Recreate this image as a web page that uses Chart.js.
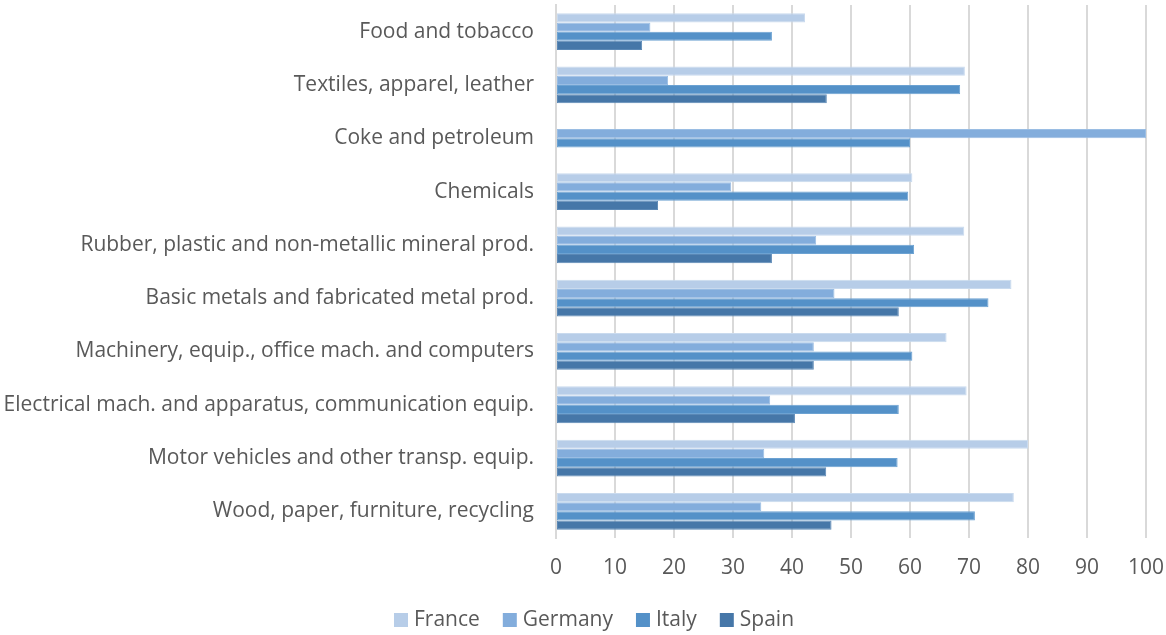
<!DOCTYPE html>
<html>
<head>
<meta charset="utf-8">
<script src="https://cdn.jsdelivr.net/npm/chart.js@4.4.1/dist/chart.umd.min.js"></script>
<style>
  html, body { margin: 0; padding: 0; background: #ffffff; }
  #wrap { position: relative; width: 1166px; height: 635px; }
</style>
</head>
<body>
<div id="wrap"><canvas id="chart"></canvas></div>
<script>
// Sectors (top to bottom)
const categories = [
  "Food and tobacco",
  "Textiles, apparel, leather",
  "Coke and petroleum",
  "Chemicals",
  "Rubber, plastic and non-metallic mineral prod.",
  "Basic metals and fabricated metal prod.",
  "Machinery, equip., office mach. and computers",
  "Electrical mach. and apparatus, communication equip.",
  "Motor vehicles and other transp. equip.",
  "Wood, paper, furniture, recycling"
];

// Values per country, in the same order as the sectors
const france  = [42.2, 69.3, null, 60.4, 69.2, 77.2, 66.2, 69.6, 80.0, 77.6];
const germany = [16.0, 19.0, 100.0, 29.7, 44.1, 47.2, 43.7, 36.3, 35.3, 34.8];
const italy   = [36.6, 68.5, 60.0, 59.7, 60.7, 73.3, 60.4, 58.1, 57.9, 71.0];
const spain   = [14.6, 45.9, null, 17.3, 36.6, 58.1, 43.7, 40.5, 45.8, 46.7];

const xTicks = [0, 10, 20, 30, 40, 50, 60, 70, 80, 90, 100];

const textColor = "#595959";
const gridColor = "#D9D9D9";
const fontFamily = "'Open Sans', sans-serif";
const fontSize = 21;

function series(label, data, color, edge) {
  return {
    label: label,
    data: data,
    backgroundColor: color,
    borderColor: edge,
    borderWidth: 1,
    borderSkipped: false,
    categoryPercentage: 0.69,
    barPercentage: 1.0
  };
}

// Legend drawn in one row under the axis: square swatch, then the name
const bottomLegend = {
  id: "bottomLegend",
  afterDraw(chart) {
    const ctx = chart.ctx;
    const box = 14, boxGap = 6, itemGap = 23;
    ctx.save();
    ctx.font = fontSize + "px " + fontFamily;
    ctx.textBaseline = "middle";
    ctx.textAlign = "left";
    const items = chart.data.datasets.map(ds => ({
      text: ds.label, color: ds.backgroundColor, w: ctx.measureText(ds.label).width
    }));
    const total = items.reduce((s, it) => s + box + boxGap + it.w, 0) + itemGap * (items.length - 1);
    let x = 594 - total / 2;
    const cy = 620;
    items.forEach(it => {
      ctx.fillStyle = it.color;
      ctx.fillRect(x, cy - box / 2, box, box);
      x += box + boxGap;
      ctx.fillStyle = textColor;
      ctx.fillText(it.text, x, cy);
      x += it.w + itemGap;
    });
    ctx.restore();
  }
};

new Chart(document.getElementById("chart"), {
  type: "bar",
  data: {
    labels: categories,
    datasets: [
      series("France",  france,  "#B7CDE8", "#C9DAEE"),
      series("Germany", germany, "#83ADDC", "#9ABDE3"),
      series("Italy",   italy,   "#5491C8", "#6CA2D2"),
      series("Spain",   spain,   "#4677A8", "#5B88B5")
    ]
  },
  plugins: [bottomLegend],
  options: {
    indexAxis: "y",
    responsive: true,
    maintainAspectRatio: false,
    animation: false,
    layout: { padding: { top: 5, right: 0, bottom: 47, left: 0 } },
    plugins: {
      legend: { display: false },
      tooltip: { enabled: false }
    },
    scales: {
      x: {
        min: 0,
        max: 100,
        afterBuildTicks: (scale) => { scale.ticks = xTicks.map(v => ({ value: v })); },
        afterFit: (scale) => {
          scale.height = 50;
          scale.paddingLeft = 0;
          scale.paddingRight = 20;
        },
        grid: { color: gridColor, lineWidth: 2, drawTicks: false },
        border: { display: false },
        ticks: {
          color: textColor,
          font: { family: fontFamily, size: fontSize },
          padding: 17
        }
      },
      y: {
        afterFit: (scale) => {
          scale.width = 556;
          scale.paddingTop = 0;
          scale.paddingBottom = 0;
        },
        grid: { display: false, drawTicks: false },
        border: { display: true, color: gridColor, width: 2 },
        ticks: {
          color: textColor,
          font: { family: fontFamily, size: fontSize },
          padding: 22
        }
      }
    }
  }
});
</script>
</body>
</html>
